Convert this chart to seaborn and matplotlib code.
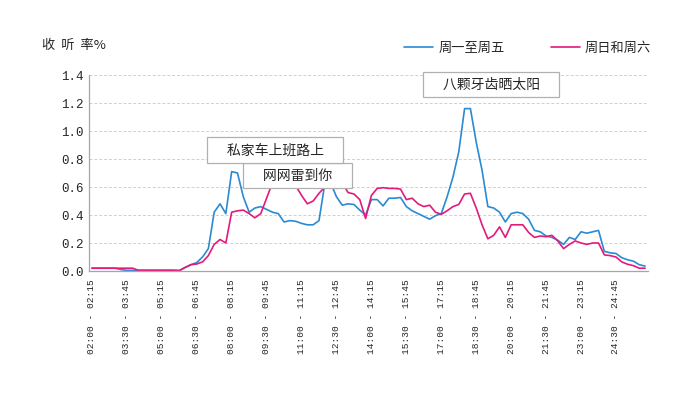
import numpy as np
import pandas as pd
import seaborn as sns
import matplotlib.pyplot as plt

# 收听率 (%) 每15分钟一个时段, 02:00 - 25:45
weekday = [0.02, 0.02, 0.02, 0.02, 0.02, 0.01, 0.005, 0.005, 0.005, 0.005,
           0.005, 0.005, 0.005, 0.005, 0.005, 0.003, 0.025, 0.045, 0.06, 0.10,
           0.16, 0.42, 0.48, 0.41, 0.71, 0.70, 0.53, 0.42, 0.45, 0.46,
           0.44, 0.42, 0.41, 0.35, 0.36, 0.355, 0.34, 0.33, 0.33, 0.36,
           0.625, 0.63, 0.53, 0.47, 0.48, 0.475, 0.435, 0.40, 0.51, 0.51,
           0.465, 0.52, 0.52, 0.525, 0.46, 0.43, 0.41, 0.39, 0.37, 0.395,
           0.41, 0.53, 0.67, 0.85, 1.16, 1.16, 0.92, 0.72, 0.46, 0.45,
           0.42, 0.35, 0.41, 0.42, 0.41, 0.37, 0.29, 0.28, 0.25, 0.24,
           0.22, 0.19, 0.24, 0.225, 0.28, 0.27, 0.28, 0.29, 0.14, 0.13,
           0.125, 0.095, 0.08, 0.07, 0.045, 0.035]
weekend = [0.02, 0.02, 0.02, 0.02, 0.02, 0.02, 0.02, 0.02, 0.005, 0.005,
           0.005, 0.005, 0.005, 0.005, 0.005, 0.003, 0.025, 0.045, 0.05, 0.065,
           0.11, 0.19, 0.225, 0.20, 0.42, 0.43, 0.435, 0.41, 0.38, 0.41,
           0.52, 0.63, 0.63, 0.60, 0.63, 0.61, 0.54, 0.48, 0.50, 0.555,
           0.60, 0.605, 0.59, 0.63, 0.56, 0.55, 0.51, 0.375, 0.54, 0.59,
           0.595, 0.59, 0.59, 0.585, 0.51, 0.52, 0.48, 0.46, 0.47, 0.42,
           0.405, 0.43, 0.46, 0.475, 0.55, 0.555, 0.45, 0.33, 0.23, 0.255,
           0.315, 0.24, 0.33, 0.33, 0.33, 0.275, 0.24, 0.25, 0.245, 0.255,
           0.215, 0.16, 0.19, 0.215, 0.20, 0.19, 0.20, 0.20, 0.115, 0.11,
           0.10, 0.065, 0.048, 0.038, 0.02, 0.02]
series_names = ['周一至周五', '周日和周六']
colors = ['#2a8ad2', '#e3197c']

tick_labels = ['02:00 - 02:15', '03:30 - 03:45', '05:00 - 05:15', '06:30 - 06:45',
               '08:00 - 08:15', '09:30 - 09:45', '11:00 - 11:15', '12:30 - 12:45',
               '14:00 - 14:15', '15:30 - 15:45', '17:00 - 17:15', '18:30 - 18:45',
               '20:00 - 20:15', '21:30 - 21:45', '23:00 - 23:15', '24:30 - 24:45']

# 节目标注: (文字, 时段位置, 收听率位置)
notes = [('网网雷到你', 35.3, 0.68),
         ('私家车上班路上', 31.5, 0.864),
         ('八颗牙齿晒太阳', 68.6, 1.33)]

n = len(weekday)
df = pd.DataFrame({'slot': np.arange(n), series_names[0]: weekday, series_names[1]: weekend})
long_df = df.melt(id_vars='slot', var_name='group', value_name='rate')

sns.set_style('white')
plt.rcParams['font.family'] = ['Noto Sans CJK SC', 'DejaVu Sans']

fig = plt.figure(figsize=(7, 3.94), dpi=100)
ax = fig.add_axes([89 / 700, 1 - 271 / 394, (648 - 89) / 700, (271 - 75) / 394])

sns.lineplot(data=long_df, x='slot', y='rate', hue='group', hue_order=series_names,
             palette=colors, linewidth=1.2, ax=ax, legend=False)

ax.set_xlim(-0.5, n - 0.5)
ax.set_ylim(0, 1.4)
ax.set_xlabel('')
ax.set_ylabel('')

grey = '#a6a6a6'
ax.set_yticks(np.arange(0, 1.41, 0.2))
ax.set_yticklabels([f'{v:.1f}' for v in np.arange(0, 1.41, 0.2)],
                   family='Liberation Mono', fontsize=9)
ax.yaxis.grid(True, color='#cfcfcf', linestyle=(0, (3, 2)), linewidth=0.7)
ax.xaxis.grid(False)

ax.set_xticks(np.arange(0, n, 6))
ax.set_xticklabels(tick_labels, rotation=90, family='Liberation Mono', fontsize=6.8, va='top')
ax.set_xticks(np.arange(-0.5, n, 1), minor=True)
ax.tick_params(axis='x', which='major', length=0, pad=6)
ax.tick_params(axis='x', which='minor', direction='in', length=3, color=grey, width=0.7)
ax.tick_params(axis='y', direction='in', length=3, color=grey, width=0.7, pad=4)

for side in ['top', 'right']:
    ax.spines[side].set_visible(False)
for side in ['left', 'bottom']:
    ax.spines[side].set_color(grey)
    ax.spines[side].set_linewidth(0.9)

# 标注框: 两侧各留一个全角空格, 框更宽
for text, xpos, ypos in notes:
    ax.text(xpos, ypos, '\u3000' + text + '\u3000', fontsize=10, ha='center', va='center',
            zorder=5,
            bbox=dict(boxstyle='square,pad=0.4', facecolor='white',
                      edgecolor='#b0b0b0', linewidth=0.9))

fig.text(42 / 700, 1 - 45 / 394, '收  听  率%', fontsize=9.5, va='center', ha='left')

fig.legend(ax.lines[:2], series_names, loc='center', bbox_to_anchor=(0.7536, 0.878),
           ncol=2, frameon=False, fontsize=9.5, handlelength=2.2, handletextpad=0.4,
           columnspacing=3.5, borderpad=0)

fig.savefig('out.png', dpi=100)
